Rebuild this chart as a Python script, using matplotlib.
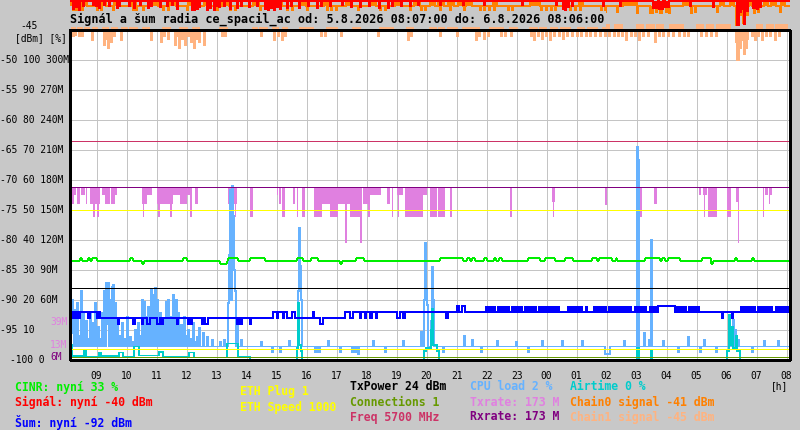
import numpy as np
import matplotlib
matplotlib.use('Agg')
import matplotlib.pyplot as plt

# casova osa: vzorek po 2 minutach, od 5.8. 08:07 do 6.8. 08:06
START = 8 * 60 + 7
N = 720

# --- data (hh:mm, hodnota) nebo (od, do, hodnota) ---
signal_base = -40.2
signal_events = [
    ("08:13", -41.5), ("08:19", -41.2), ("08:25", -41.7), ("08:33", -41.0), ("08:53", -40.8), ("08:59", -41.0),
    ("09:05", -41.3), ("09:15", -40.8), ("09:25", -41.0), ("09:41", -41.3), ("09:45", -41.0), ("10:05", -41.0),
    ("10:15", -41.3), ("10:27", -40.8), ("10:43", -41.3), ("10:49", -41.0), ("11:07", -41.2), ("11:21", -41.0),
    ("11:31", -40.8), ("11:41", -41.5), ("12:11", -41.8), ("12:15", -42.0), ("12:21", -41.5), ("12:25", -41.2),
    ("12:41", -41.7), ("12:47", -41.3), ("12:55", -41.7), ("12:59", -41.0), ("13:05", -41.2), ("13:15", -41.0),
    ("13:27", -41.5), ("13:41", -41.3), ("13:49", -41.0), ("14:05", -41.2), ("14:21", -41.0), ("14:37", -41.5),
    ("14:43", -42.0), ("14:49", -41.3), ("14:55", -41.8), ("15:01", -41.2), ("15:07", -41.5), ("15:21", -41.3),
    ("15:29", -41.0), ("15:45", -41.3), ("16:03", -41.0), ("16:21", -41.3), ("16:29", -41.0), ("16:47", -41.0),
    ("17:11", -40.8), ("17:29", -41.2), ("17:47", -41.2), ("18:05", -41.0), ("18:25", -41.3), ("18:43", -41.3),
    ("18:51", -41.0), ("19:09", -41.0), ("19:27", -41.0), ("19:43", -40.8), ("20:27", -40.8), ("21:13", -40.8),
    ("21:55", -40.8), ("23:11", -40.8), ("00:19", -40.8), ("00:33", -41.5), ("00:37", -41.7), ("00:43", -41.2),
    ("00:51", -41.0), ("01:53", -41.0), ("02:27", -41.0), ("03:33", "03:43", -41.3), ("03:45", "03:53", -41.5),
    ("03:57", "04:05", -41.2), ("04:47", -41.0), ("05:33", -41.2), ("06:21", "06:25", -44.2), ("06:27", -42.0),
    ("06:31", -41.5), ("06:35", "06:37", -44.0), ("06:41", -41.8), ("06:53", "06:57", -41.3), ("07:01", -41.5),
    ("07:07", -41.2),
]

chain0_base = -41.0
chain0_events = [
    ("08:07", "08:15", -40.4), ("08:29", "08:41", -40.4), ("09:07", "09:19", -40.4), ("09:35", "09:47", -40.4),
    ("10:09", "10:21", -40.4), ("10:51", "11:03", -40.4), ("11:25", "11:39", -40.4), ("12:03", "12:13", -40.4),
    ("12:35", "12:49", -40.4), ("13:11", "13:25", -40.4), ("14:13", "14:25", -40.4), ("14:59", "15:11", -40.4),
    ("15:47", "15:59", -40.4), ("16:35", "16:47", -40.4), ("17:19", "17:31", -40.4), ("18:07", "18:19", -40.4),
    ("18:57", "19:09", -40.4), ("19:35", "19:47", -40.4), ("20:07", "20:17", -40.4), ("20:23", "20:35", -40.4),
    ("20:43", "20:55", -40.4), ("21:03", "21:13", -40.4), ("21:19", "21:31", -40.4), ("22:13", "22:21", -40.4),
    ("23:27", "23:47", -40.4), ("01:05", "01:13", -40.4), ("02:33", "03:01", -40.4), ("04:33", "04:47", -40.4),
    ("05:47", "05:55", -40.4), ("06:07", "06:15", -40.4), ("06:45", "06:51", -40.4), ("06:59", "07:09", -40.4),
    ("07:15", "07:23", -40.4), ("07:29", "07:39", -40.4), ("07:49", "07:57", -40.4),
    ("08:13", -42.2), ("08:19", -41.8), ("08:25", -42.2), ("08:31", -42.0), ("09:01", -42.2), ("09:09", -41.8),
    ("09:33", -42.2), ("10:13", -42.0), ("10:19", -42.2), ("10:33", -42.2), ("11:13", -42.0), ("11:23", -42.2),
    ("12:01", -42.2), ("12:11", -41.8), ("13:01", -42.2), ("13:27", -42.0), ("13:37", -42.2), ("14:27", -42.0),
    ("15:21", -42.2), ("15:31", -41.8), ("16:01", -42.0), ("16:41", -42.2), ("16:49", -42.0), ("16:59", -42.2),
    ("17:43", -42.0), ("18:27", -42.2), ("18:37", -41.8), ("19:27", -42.0), ("19:49", -42.2), ("19:57", -42.0),
    ("20:27", -42.2), ("20:47", -42.0), ("21:15", -42.2), ("21:47", -42.0), ("21:55", -42.2), ("22:05", -41.8),
    ("22:15", -42.2), ("22:43", -42.0), ("22:51", -42.2), ("23:49", -42.2), ("23:59", -42.0), ("00:09", -42.2),
    ("00:17", -41.8), ("00:47", -42.2), ("00:57", -42.0), ("01:07", -42.2), ("01:49", -42.2), ("01:57", -42.0),
    ("02:21", -42.0), ("03:01", -42.2), ("03:27", "03:33", -42.2), ("03:39", -42.0), ("03:47", "03:51", -42.2),
    ("03:59", -42.0), ("04:05", -42.2), ("04:49", -42.2), ("04:57", -42.0), ("05:41", -42.0),
    ("06:19", "06:25", -44.2), ("06:29", -42.5), ("06:33", "06:37", -43.8), ("06:41", -42.5), ("06:55", -42.2),
    ("07:03", -42.0), ("07:47", -42.0),
]

chain1_base = -45.0
chain1_events = [
    ("08:11", "08:19", -44.2), ("08:23", "08:31", -44.2), ("08:37", "08:45", -44.2), ("08:51", "09:01", -44.2),
    ("09:13", "09:23", -44.2), ("09:29", "09:41", -44.2), ("09:51", "10:01", -44.2), ("10:07", "10:21", -44.2),
    ("10:33", "10:45", -44.2), ("11:13", "11:27", -44.2), ("11:47", "12:01", -44.2), ("12:13", "12:27", -44.2),
    ("13:07", "13:21", -44.2), ("14:13", "14:21", -44.2), ("14:27", "14:41", -44.2), ("14:53", "15:05", -44.2),
    ("15:11", "15:21", -44.2), ("15:47", "16:13", -44.2), ("16:41", "17:01", -44.2), ("17:33", "17:47", -44.2),
    ("18:27", "18:53", -44.2), ("19:21", "19:33", -44.2), ("20:07", "20:19", -44.2), ("20:25", "20:35", -44.2),
    ("20:43", "21:01", -44.2), ("21:13", "21:47", -44.2), ("22:07", "22:33", -44.2), ("22:47", "23:01", -44.2),
    ("23:27", "23:41", -44.2), ("23:47", "00:01", -44.2), ("00:07", "00:21", -44.2), ("00:29", "00:47", -44.2),
    ("01:01", "01:15", -44.2), ("01:23", "01:41", -44.2), ("01:53", "02:07", -44.2), ("02:15", "02:33", -44.2),
    ("03:01", "03:15", -44.2), ("03:21", "03:35", -44.2), ("03:41", "03:53", -44.2), ("04:07", "04:33", -44.2),
    ("05:01", "05:13", -44.2), ("05:19", "05:33", -44.2), ("05:41", "06:07", -44.2), ("07:01", "07:13", -44.2),
    ("07:19", "07:33", -44.2), ("07:39", "07:51", -44.2), ("07:55", "08:01", -44.2),
    ("08:13", -46.0), ("08:17", -45.8), ("08:25", -46.0), ("08:31", -46.0), ("08:51", -46.7), ("09:15", -47.5),
    ("09:19", -46.5), ("09:23", -48.0), ("09:29", -47.0), ("09:35", -46.0), ("09:49", -46.7), ("10:49", -46.7),
    ("11:09", -47.0), ("11:15", -46.0), ("11:23", -46.5), ("11:37", -47.5), ("11:41", -46.0), ("11:45", -48.0),
    ("11:51", -46.5), ("11:57", -47.5), ("12:03", -46.0), ("12:09", -47.0), ("12:15", -48.0), ("12:21", -46.5),
    ("12:25", -47.0), ("12:35", -47.5), ("13:11", -46.0), ("13:17", -46.0), ("14:29", -46.0), ("14:55", -46.7),
    ("15:03", -46.0), ("15:11", -46.7), ("15:17", -46.0), ("16:29", -46.0), ("16:37", -46.0), ("17:09", -46.0),
    ("18:23", -46.0), ("19:23", -46.7), ("19:29", -46.0), ("20:27", -46.0), ("21:01", -46.0), ("21:39", -46.7),
    ("21:45", -46.0), ("21:55", -46.5), ("22:03", -46.0), ("22:29", -46.0), ("22:37", -46.0), ("22:49", -46.0),
    ("23:29", -46.0), ("23:35", -46.7), ("23:43", -46.0), ("23:51", -46.5), ("23:59", -46.0), ("00:07", -46.7),
    ("00:15", -46.0), ("00:25", -46.0), ("00:33", -46.5), ("00:41", -46.0), ("00:51", -46.0), ("01:01", -46.0),
    ("01:09", -46.0), ("01:19", -46.0), ("01:27", -46.0), ("01:37", -46.0), ("01:47", -46.0), ("01:57", -46.0),
    ("02:05", -46.0), ("02:15", -46.0), ("02:23", -46.0), ("02:31", -46.0), ("02:39", -46.7), ("02:49", -46.0),
    ("02:57", -46.0), ("03:05", -46.7), ("03:13", -46.0), ("03:23", -46.0), ("03:37", -47.0), ("03:45", -46.0),
    ("03:53", -46.0), ("04:03", -46.0), ("04:13", -46.0), ("04:25", -46.0), ("04:35", -46.0), ("04:43", -46.0),
    ("05:09", -46.0), ("05:19", -46.0), ("05:29", -46.0), ("05:39", -46.0), ("06:19", -47.0),
    ("06:21", "06:25", -50.0), ("06:27", -48.0), ("06:29", -46.7), ("06:35", -49.0), ("06:39", -48.0),
    ("06:41", -46.5), ("06:51", -46.0), ("06:57", -46.7), ("07:03", -46.0), ("07:11", -46.7), ("07:19", -46.0),
    ("07:27", -46.0), ("07:37", -46.7), ("07:45", -46.0),
]

noise_base = -93.0
noise_events = [
    ("08:07", -69.5), ("08:09", "09:07", -92.0),
    ("08:11", "08:15", -93.0), ("08:17", "08:21", -93.0), ("08:23", "08:27", -93.0), ("08:43", "08:47", -93.0),
    ("09:01", "09:05", -93.0), ("09:43", -94.0), ("10:13", "10:17", -94.0), ("10:31", "10:33", -94.0),
    ("10:41", "10:47", -94.0), ("11:01", "11:07", -94.0), ("11:11", -94.0), ("11:41", "11:43", -94.0),
    ("12:03", "12:07", -94.0), ("12:09", -94.0), ("12:31", "12:33", -94.0), ("12:37", "12:43", -94.0),
    ("13:41", -94.0), ("13:47", "13:51", -94.0), ("14:07", -94.0),
    ("14:53", "15:01", -92.0), ("15:03", "15:13", -92.0), ("15:15", "15:21", -92.0), ("15:31", "15:37", -92.0),
    ("16:13", -92.0), ("16:27", "16:33", -94.0), ("17:17", "17:27", -92.0), ("17:33", "17:47", -92.0),
    ("17:49", "17:57", -92.0), ("17:59", "18:07", -92.0), ("18:11", "18:19", -92.0),
    ("18:21", "08:07", -92.0),
    ("19:01", "19:07", -93.0), ("19:13", "19:17", -93.0), ("20:39", "20:43", -93.0),
    ("21:01", "21:05", -91.0), ("21:11", "21:17", -91.0), ("03:43", "04:17", -91.0),
    ("05:51", "05:53", -93.0), ("06:11", "06:13", -93.0),
]
# husta strida -92/-91 dBm
noise_dense = [
    ("21:57", "22:19"), ("22:21", "22:47"), ("22:49", "23:13"), ("23:15", "23:41"), ("23:43", "00:27"),
    ("00:41", "01:13"), ("01:17", "01:23"), ("01:33", "02:01"), ("02:03", "02:51"), ("02:55", "03:21"),
    ("03:25", "03:43"), ("04:17", "04:41"), ("04:43", "05:07"), ("06:27", "06:59"), ("07:01", "07:33"),
    ("07:37", "08:07"),
]

cinr_base = 33
cinr_events = [
    ("08:27", "08:31", 34), ("08:43", "08:47", 34), ("08:51", "09:01", 34), ("10:07", "10:13", 34),
    ("10:31", "10:35", 32), ("11:53", "12:01", 34), ("13:07", "13:21", 32), ("13:23", "13:43", 34),
    ("14:07", "14:37", 34), ("15:41", "15:53", 34), ("16:09", "16:23", 34), ("17:07", "17:11", 32),
    ("17:39", "17:55", 34), ("20:27", "21:13", 34), ("21:21", "21:27", 34), ("21:31", "21:37", 34),
    ("21:55", "22:01", 34), ("22:15", "22:19", 34), ("22:25", "22:31", 34), ("23:23", "23:47", 34),
    ("23:57", "00:17", 34), ("00:37", "00:53", 34), ("01:31", "01:41", 34), ("01:45", "02:11", 34),
    ("02:19", "02:21", 34), ("03:17", "03:47", 34), ("03:51", "03:57", 34), ("04:03", "04:27", 34),
    ("05:11", "05:29", 34), ("05:29", "05:33", 32), ("06:17", "06:21", 34), ("06:51", "06:55", 34),
]

cpu_base = 4.5
cpu_events = [
    ("08:07", 36), ("08:09", 12), ("08:11", 20), ("08:13", 9), ("08:17", 16.7), ("08:21", 19), ("08:25", 8),
    ("08:29", 23), ("08:33", 15.7), ("08:39", 13), ("08:43", 7), ("08:47", 15.7), ("08:53", 12.3), ("08:57", 19),
    ("09:03", 11), ("09:07", 7), ("09:11", 15.7), ("09:15", 23), ("09:19", 25.7), ("09:21", 12), ("09:23", 25.7),
    ("09:27", 20), ("09:31", 24.3), ("09:33", 25), ("09:37", 19), ("09:41", 13), ("09:45", 8), ("09:51", 12.3),
    ("09:57", 7), ("10:01", 14.3), ("10:07", 7.7), ("10:11", 6), ("10:17", 10), ("10:23", 12.3), ("10:27", 8),
    ("10:31", 20), ("10:35", 19.3), ("10:39", 14.3), ("10:43", 17.7), ("10:45", 9), ("10:49", 23.3),
    ("10:53", 21.7), ("10:57", 24), ("11:01", 20), ("11:07", 15.7), ("11:11", 9), ("11:13", 13.3),
    ("11:19", 19.3), ("11:23", 20), ("11:29", 14.3), ("11:33", 21.7), ("11:39", 20), ("11:43", 15.7),
    ("11:49", 11.7), ("11:55", 14.3), ("11:59", 8), ("12:03", 10), ("12:09", 7), ("12:13", 12.3), ("12:17", 6),
    ("12:21", 7.7), ("12:25", 10.7), ("12:33", 9), ("12:41", 7.7), ("12:51", 6.7), ("13:07", 6), ("13:15", 6.7),
    ("13:23", 19), ("13:25", 35), ("13:27", 56.7), ("13:29", 20), ("13:31", 58), ("13:33", 48), ("13:35", 30),
    ("13:37", 23), ("13:41", 13.3), ("13:49", 6.7), ("14:29", 6), ("14:51", 2.5), ("15:07", 2.5), ("15:25", 6.5),
    ("15:43", 23), ("15:45", 44), ("15:47", 31.3), ("15:49", 20), ("16:17", "16:21", 2.5), ("16:25", 2.5),
    ("16:43", 6.5), ("17:07", 2.5), ("17:31", 2.5), ("17:37", 2.5), ("17:43", 2.0), ("18:13", 6.5),
    ("18:37", 2.5), ("19:13", 6.5), ("19:49", 9.3), ("19:55", 20), ("19:57", 39), ("19:59", 23.3),
    ("20:01", 18.3), ("20:09", 13), ("20:11", 31), ("20:13", 20), ("20:33", 2.5), ("21:15", 8), ("21:31", 6.7),
    ("21:49", 2.5), ("22:21", 6.5), ("22:59", 6), ("23:23", 2.5), ("23:51", 6.5), ("00:31", 6.5), ("01:11", 6.5),
    ("01:57", "02:07", 2.0), ("02:35", 6.5), ("03:01", 71), ("03:03", 66.7), ("03:15", 9), ("03:25", 6.7),
    ("03:29", 40), ("03:53", 6.5), ("04:23", 2.5), ("04:43", 7.7), ("05:07", 2.5), ("05:15", 6.7), ("05:39", 2.5),
    ("06:07", 10), ("06:13", 13.3), ("06:17", 10), ("06:23", 6.7), ("06:51", 2.5), ("07:15", 6.5), ("07:43", 6.5),
]

airtime_base = 0
airtime_events = [
    ("08:07", "08:11", 5), ("08:11", "08:35", 1.3), ("08:35", "08:39", 3), ("08:39", "09:05", 1),
    ("09:05", "09:09", 2.5), ("09:09", "09:45", 1.3), ("09:45", "09:53", 2.5), ("09:53", "10:15", 1),
    ("10:15", "10:25", 4.5), ("10:25", "11:05", 1.5), ("11:05", "11:13", 2.7), ("11:13", "12:05", 1),
    ("12:05", "12:15", 2.5), ("12:15", "13:21", 0.8), ("13:21", "13:43", 5.5), ("13:43", "14:07", 1),
    ("15:41", 4), ("15:43", 19), ("15:45", "15:49", 5), ("15:49", 3),
    ("19:55", "19:59", 3), ("19:59", "20:09", 4), ("20:09", 10), ("20:11", 17), ("20:13", "20:21", 5),
    ("20:21", "20:25", 3), ("03:01", "03:05", 4), ("03:29", "03:31", 3),
    ("06:01", "06:05", 3), ("06:05", 15), ("06:07", "06:11", 5), ("06:11", 11), ("06:13", "06:19", 4),
    ("06:19", 8), ("06:21", "06:27", 3),
]

rx_rate = 173
tx_base = 173
tx_events = [
    ("08:11", "08:15", 156), ("08:15", "08:19", 165), ("08:21", "08:27", 156), ("08:29", "08:37", 165),
    ("08:39", "08:41", 156), ("08:47", "09:07", 156), ("08:53", "08:57", 143), ("09:01", "09:05", 143),
    ("09:11", "09:17", 165), ("09:17", "09:27", 156), ("09:29", "09:37", 156), ("09:37", "09:41", 165),
    ("10:31", "10:41", 156), ("10:33", "10:35", 143), ("10:41", "10:51", 165), ("11:01", "11:33", 156),
    ("11:03", "11:07", 143), ("11:27", "11:31", 143), ("11:33", "11:47", 165), ("11:47", "12:01", 156),
    ("12:01", "12:11", 165), ("12:07", "12:11", 143), ("12:17", "12:23", 156), ("13:23", "13:33", 156),
    ("13:33", "13:41", 156), ("13:37", "13:39", 143), ("14:07", "14:13", 143), ("15:01", "15:03", 165),
    ("15:05", "15:09", 156), ("15:11", "15:17", 143), ("15:33", "15:37", 156), ("15:41", "15:43", 143),
    ("15:51", "15:57", 143), ("16:15", "16:31", 143), ("16:31", "16:47", 156), ("16:47", "17:03", 143),
    ("17:03", "17:27", 156), ("17:17", "17:21", 117), ("17:27", "17:47", 143), ("17:47", "17:51", 117),
    ("17:53", "18:07", 156), ("18:03", "18:07", 143), ("18:07", "18:29", 165), ("18:41", "18:47", 156),
    ("18:51", "18:53", 143), ("19:01", "19:13", 165), ("19:03", "19:05", 143), ("19:17", "19:53", 143),
    ("19:53", "20:01", 165), ("20:07", "20:21", 143), ("20:23", "20:37", 143), ("20:47", "20:51", 143),
    ("22:47", "22:51", 143), ("00:11", "00:17", 158), ("00:13", "00:15", 143), ("01:57", "02:01", 155),
    ("03:01", "03:05", 156), ("03:07", "03:11", 143), ("03:35", "03:41", 156), ("05:05", "05:09", 165),
    ("05:13", "05:21", 165), ("05:15", "05:17", 143), ("05:23", "05:41", 143), ("06:01", "06:09", 143),
    ("06:19", "06:23", 158), ("06:23", "06:25", 117), ("07:13", "07:15", 143), ("07:17", "07:23", 165),
    ("07:25", "07:27", 156), ("07:27", "07:31", 165),
]

tx_power = 24          # dBm, kresleno na ose %
connections = 1        # na ose %
freq_mhz = 5700
eth_speed = 1000
eth_plug = 1

hours = list(range(9, 33))
y_labels = ["-50 100 300M", "-55 90 270M", "-60 80 240M", "-65 70 210M", "-70 60 180M", "-75 50 150M",
            "-80 40 120M", "-85 30 90M", "-90 20 60M", "-95 10", "-100 0"]
y_label_dbm = [-50, -55, -60, -65, -70, -75, -80, -85, -90, -95, -100]


def mins(s, end=False):
    h, m = map(int, s.split(':'))
    t = h * 60 + m
    if t < START or (end and t == START):
        t += 1440
    return t


def series(base, events):
    vals = np.full(N, float(base))
    for ev in events:
        i0 = (mins(ev[0]) - START) // 2
        i1 = i0 + 1 if len(ev) == 2 else (mins(ev[1], end=True) - START) // 2
        vals[i0:max(i1, i0 + 1)] = ev[-1]
    return vals


def pct(v):
    return -100 + np.asarray(v, float) / 2


def rate(v):
    return -100 + np.asarray(v, float) / 6


edges = START + 2 * np.arange(N + 1)
END = edges[-1]

BG = '#C8C8C8'
MONO = 'DejaVu Sans Mono'
W, H = 800, 430

fig = plt.figure(figsize=(W / 100, H / 100), dpi=100, facecolor=BG)
ax = fig.add_axes([70 / W, 70 / H, 720 / W, 360 / H])
ax.set_xlim(START, END)
ax.set_ylim(-100, -40)
ax.axis('off')

LW = 0.5
kw = dict(antialiased=False)

# plocha grafu a mrizka
ax.fill_between([START, END], -100, -45, color='white', zorder=0, lw=0)
ax.hlines(np.arange(-95, -45, 5), START, END, color='#C4C4C4', lw=LW, zorder=1, **kw)
ax.vlines([h * 60 for h in hours], -100, -45, color='#C4C4C4', lw=LW, zorder=1, **kw)

# Txrate pod Rxrate
tx = series(tx_base, tx_events)
ax.stairs(rate(tx), edges, baseline=rate(np.full(N, rx_rate)), fill=True, color='#E080E0', zorder=2, lw=0, **kw)

# signaly nahore
for base, evs, col in [(chain1_base, chain1_events, '#FFB380'),
                       (chain0_base, chain0_events, '#FF8000'),
                       (signal_base, signal_events, '#FF0000')]:
    vals = series(base, evs)
    ax.stairs(vals, edges, baseline=base, fill=True, color=col, zorder=3, lw=0, **kw)
    ax.stairs(vals, edges, baseline=None, color=col, zorder=3, lw=LW, **kw)

# CPU a airtime
ax.stairs(pct(series(cpu_base, cpu_events)), edges, baseline=None, color='#66B2FF', lw=LW, zorder=3, **kw)
ax.stairs(pct(series(airtime_base, airtime_events)), edges, baseline=None, color='#00CCCC', lw=LW, zorder=4, **kw)

# konstantni hodnoty
ax.hlines(pct(eth_speed / 20), START, END, color='#FFFF00', lw=LW, zorder=5, **kw)
ax.hlines(rate(freq_mhz / 26), START, END, color='#CC3366', lw=LW, zorder=5, **kw)
ax.hlines(rate(rx_rate), START, END, color='#800080', lw=LW, zorder=5, **kw)
ax.hlines(rate(eth_plug * 11), START, END, color='#FFFF00', lw=LW, zorder=5, **kw)
ax.hlines(pct(tx_power), START, END, color='black', lw=LW, zorder=5, **kw)
ax.hlines(pct(connections), START, END, color='#669900', lw=LW, zorder=5, **kw)

# CINR
ax.plot(edges[:-1] + 1, pct(series(cinr_base, cinr_events)), color='#00EE00', lw=LW, zorder=6, **kw)

# sum
dense = series(-92, [(a, b, -91) for a, b in noise_dense])
ax.stairs(dense, edges, baseline=-92, fill=True, color='#0000FF', zorder=7, lw=0, **kw)
ax.stairs(series(noise_base, noise_events), edges, baseline=None, color='#0000FF', lw=LW, zorder=7, **kw)

# ramecek
ax.plot([START, START, END, END, START], [-45, -100, -100, -45, -45], color='black', lw=0.8,
        clip_on=False, zorder=8, **kw)


def px(x, y):
    return x / W, 1 - y / H


# popisky os
for lab, d in zip(y_labels, y_label_dbm):
    x0 = 10 if lab.startswith('-100') else 0
    fig.text(*px(x0, 30 + (-45 - d) * 6), lab, ha='left', va='center', fontsize=6.9, family=MONO)
fig.text(*px(20, 26), "-45", ha='left', va='center', fontsize=6.9, family=MONO)
fig.text(*px(15, 38), "[dBm] [%]", ha='left', va='center', fontsize=6.9, family=MONO)
fig.text(*px(50, 322), "39M", ha='left', va='center', fontsize=6.9, family=MONO, color='#E080E0')
fig.text(*px(50, 345), "13M", ha='left', va='center', fontsize=6.9, family=MONO, color='#E080E0')
fig.text(*px(50, 357), "6M", ha='left', va='center', fontsize=6.9, family=MONO, color='#800080')

for h in hours:
    fig.text(*px(70 + (h * 60 - START) / 2, 376), f"{h % 24:02d}", ha='center', va='center',
             fontsize=6.9, family=MONO)
fig.text(*px(771, 386), "[h]", ha='left', va='center', fontsize=6.9, family=MONO)

fig.text(*px(70, 19), "Signál a šum radia ce_spacil_ac od: 5.8.2026 08:07:00 do: 6.8.2026 08:06:00",
         ha='left', va='center', fontsize=8.5, family=MONO, weight='bold', zorder=10,
         bbox=dict(facecolor=BG, edgecolor='none', pad=1.0))

# legenda
legend = [
    (15, 387, "CINR: nyní 33 %", '#00EE00'),
    (15, 402, "Signál: nyní -40 dBm", '#FF0000'),
    (15, 422, "Šum: nyní -92 dBm", '#0000FF'),
    (240, 392, "ETH Plug 1", '#FFFF00'),
    (240, 407, "ETH Speed 1000", '#FFFF00'),
    (350, 387, "TxPower 24 dBm", 'black'),
    (350, 402, "Connections 1", '#669900'),
    (350, 417, "Freq 5700 MHz", '#CC3366'),
    (470, 387, "CPU load 2 %", '#66B2FF'),
    (470, 402, "Txrate: 173 M", '#E080E0'),
    (470, 417, "Rxrate: 173 M", '#800080'),
    (570, 387, "Airtime 0 %", '#00CCCC'),
    (570, 402, "Chain0 signal -41 dBm", '#FF8000'),
    (570, 417, "Chain1 signal -45 dBm", '#FFB380'),
]
for x, y, s, c in legend:
    fig.text(*px(x, y), s, ha='left', va='center', fontsize=8.3, family=MONO, weight='bold', color=c)

fig.savefig('out.png', dpi=100, facecolor=BG)
